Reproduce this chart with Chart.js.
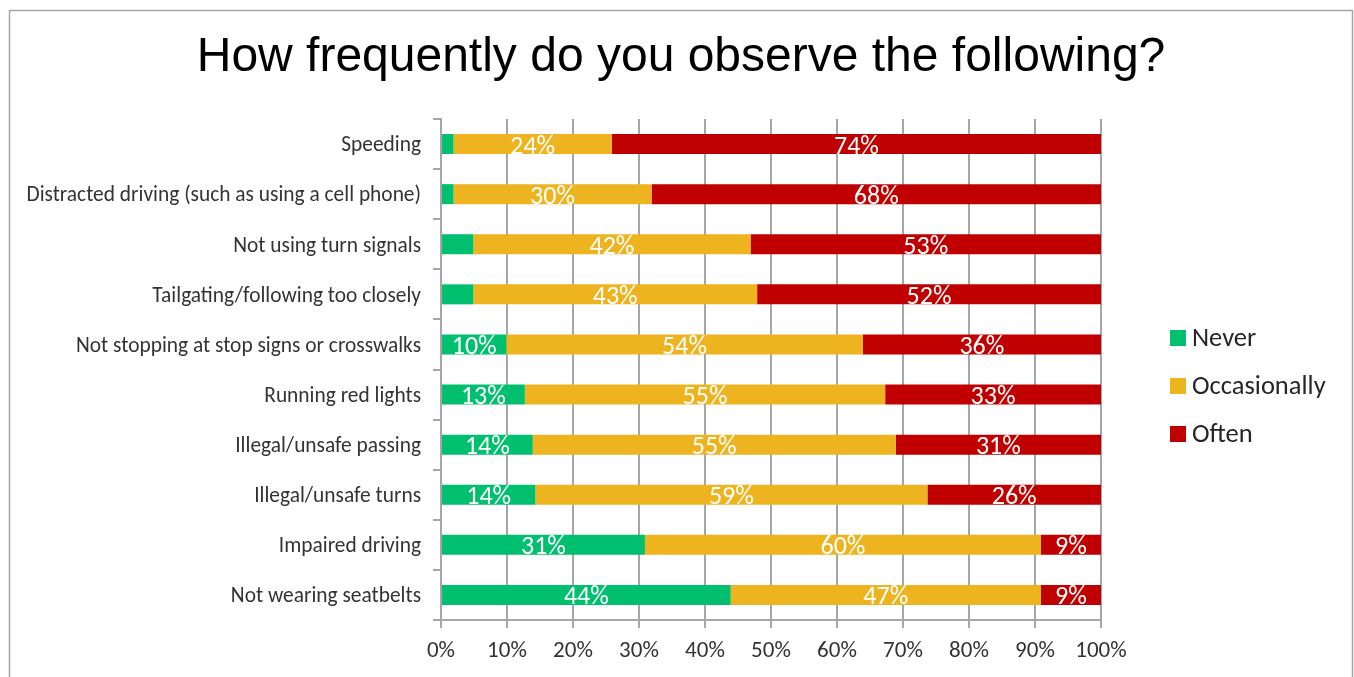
<!DOCTYPE html>
<html lang="en">
<head>
    <meta charset="UTF-8">
    <title>How frequently do you observe the following?</title>
    <script src="https://cdn.jsdelivr.net/npm/chart.js"></script>
    <style>
        html, body {
            margin: 0;
            padding: 0;
            background: #fff;
        }
    </style>
</head>
<body>
    <canvas id="freqChart" width="1354" height="677"></canvas>

    <script>
        // Chart data (percent of respondents)
        const titleText = 'How frequently do you observe the following?';
        const categories = [
            'Speeding',
            'Distracted driving (such as using a cell phone)',
            'Not using turn signals',
            'Tailgating/following too closely',
            'Not stopping at stop signs or crosswalks',
            'Running red lights',
            'Illegal/unsafe passing',
            'Illegal/unsafe turns',
            'Impaired driving',
            'Not wearing seatbelts'
        ];
        const seriesNames = ['Never', 'Occasionally', 'Often'];
        const neverVals = [1.9, 1.9, 4.9, 4.9, 9.9, 12.7, 13.9, 14.3, 30.9, 43.9];
        const occasionallyVals = [24.0, 30.0, 42.0, 43.0, 54.0, 54.6, 55.0, 59.4, 60.0, 47.0];
        const oftenVals = [74.1, 68.1, 53.1, 52.1, 36.1, 32.7, 31.1, 26.3, 9.1, 9.1];
        const xTickValues = [0, 10, 20, 30, 40, 50, 60, 70, 80, 90, 100];

        const seriesColors = ['#00BF6F', '#EEB420', '#C00000'];
        const axisGray = '#a6a6a6';
        const labelFont = 'Carlito, Lato, sans-serif';

        // Background, outer frame and the big title
        const framePlugin = {
            id: 'frame',
            beforeDraw(chart) {
                const ctx = chart.ctx;
                ctx.save();
                ctx.fillStyle = '#fff';
                ctx.fillRect(0, 0, chart.width, chart.height);
                ctx.strokeStyle = axisGray;
                ctx.lineWidth = 1.5;
                ctx.strokeRect(9.5, 10.5, 1343, 700);
                ctx.fillStyle = '#000';
                ctx.font = '48px "Liberation Sans", Arial, sans-serif';
                ctx.textAlign = 'center';
                ctx.textBaseline = 'middle';
                ctx.fillText(titleText, 681, 57.5);
                ctx.restore();
            }
        };

        // White percentage labels in the middle of each segment
        const valueLabelPlugin = {
            id: 'valueLabels',
            afterDatasetsDraw(chart) {
                const ctx = chart.ctx;
                ctx.save();
                ctx.font = '26px ' + labelFont;
                ctx.fillStyle = '#fff';
                ctx.textAlign = 'center';
                ctx.textBaseline = 'middle';
                chart.data.datasets.forEach((ds, di) => {
                    chart.getDatasetMeta(di).data.forEach((bar, i) => {
                        const v = ds.data[i];
                        if (v < 8) return; // tiny slices have no label
                        const p = bar.getProps(['x', 'y', 'base'], true);
                        ctx.fillText(Math.round(v) + '%', (p.x + p.base) / 2, p.y + 3);
                    });
                });
                ctx.restore();
            }
        };

        // Legend on the right side
        const sideLegendPlugin = {
            id: 'sideLegend',
            afterDraw(chart) {
                const ctx = chart.ctx;
                ctx.save();
                ctx.font = '26.5px ' + labelFont;
                ctx.textBaseline = 'middle';
                chart.data.datasets.forEach((ds, i) => {
                    const y = 338 + i * 48;
                    ctx.fillStyle = ds.backgroundColor;
                    ctx.fillRect(1170, y - 8, 16, 16);
                    ctx.fillStyle = '#262626';
                    ctx.fillText(ds.label, 1192, y + 1);
                });
                ctx.restore();
            }
        };

        const seriesData = [neverVals, occasionallyVals, oftenVals];

        new Chart(document.getElementById('freqChart').getContext('2d'), {
            type: 'bar',
            data: {
                labels: categories,
                datasets: seriesNames.map((name, i) => ({
                    label: name,
                    data: seriesData[i],
                    backgroundColor: seriesColors[i],
                    borderWidth: 0,
                    barPercentage: 0.4,
                    categoryPercentage: 1.0
                }))
            },
            options: {
                indexAxis: 'y',
                responsive: false,
                animation: false,
                layout: {
                    padding: { top: 119, right: 253, bottom: 0, left: 0 }
                },
                plugins: {
                    legend: { display: false },
                    title: { display: false },
                    tooltip: { enabled: false }
                },
                scales: {
                    x: {
                        stacked: true,
                        min: 0,
                        max: 100,
                        afterBuildTicks: scale => {
                            scale.ticks = xTickValues.map(v => ({ value: v }));
                        },
                        afterFit: scale => { scale.height = 57; },
                        ticks: {
                            callback: v => v + '%',
                            color: '#333',
                            font: { family: labelFont, size: 23 },
                            padding: 9
                        },
                        grid: {
                            color: axisGray,
                            lineWidth: 2,
                            tickLength: 8
                        },
                        border: { color: axisGray, width: 2 }
                    },
                    y: {
                        stacked: true,
                        afterFit: scale => { scale.width = 441; },
                        ticks: {
                            color: '#333',
                            font: { family: labelFont, size: 21.4 },
                            padding: 12,
                            labelOffset: 2
                        },
                        grid: {
                            display: true,
                            drawOnChartArea: false,
                            offset: true,
                            color: axisGray,
                            lineWidth: 2,
                            tickLength: 8
                        },
                        border: { color: axisGray, width: 2 }
                    }
                }
            },
            plugins: [framePlugin, valueLabelPlugin, sideLegendPlugin]
        });
    </script>
</body>
</html>
